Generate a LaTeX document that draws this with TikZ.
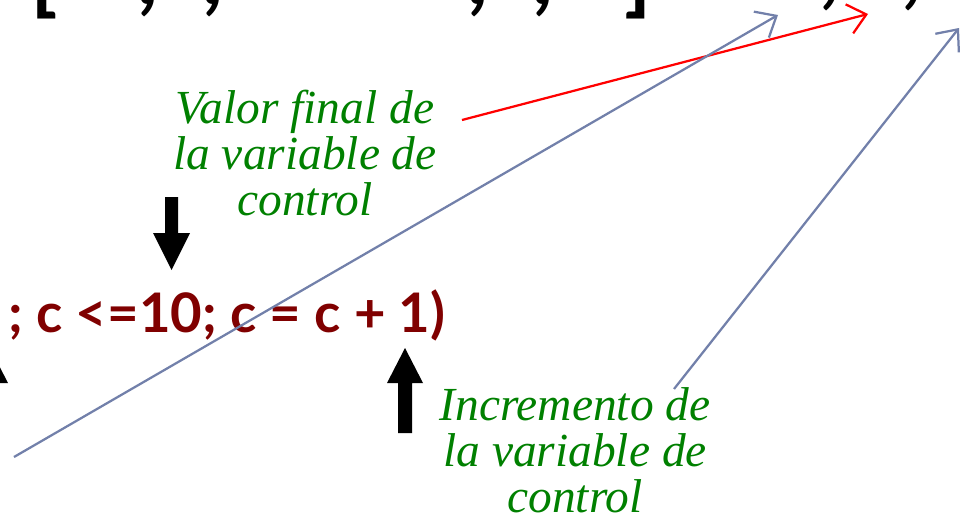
\documentclass[tikz,border=0pt]{standalone}
\usepackage{fontspec}
\setmainfont{Liberation Serif}
\newfontfamily\codefont{Lato}
\usetikzlibrary{arrows.meta}

\definecolor{notegreen}{RGB}{0,128,0}
\definecolor{codered}{RGB}{128,0,0}
\definecolor{linkgray}{RGB}{114,128,170}

\begin{document}
\begin{tikzpicture}[
x=0.2mm,y=-0.2mm,
note/.style={align=center,text=notegreen,inner sep=0pt,font=\fontsize{27}{26}\selectfont\itshape},
code/.style={text=codered,inner sep=0pt,font=\codefont\bfseries\fontsize{31}{31}\selectfont},
toprow/.style={inner sep=0pt,anchor=base,font=\codefont\bfseries\fontsize{50}{50}\selectfont},
pointer/.style={-{Straight Barb[length=3.5mm,width=6mm]},line width=0.45mm},
blockarrow/.style={fill=black}
]
\useasboundingbox (0,0) rectangle (967,516);
\clip (0,0) rectangle (967,516);

% row of values above, cut off by the top edge
\node[toprow] (lbr) at (44,6) {[};
\node[toprow] (c1) at (148,5) {,};
\node[toprow] (c2) at (213,5) {,};
\node[toprow] (c3) at (478,5) {,};
\node[toprow] (c4) at (543,5) {,};
\node[toprow] (rbr) at (638,6) {]};
\node[toprow] (c5) at (830,-1) {,};
\node[toprow] (c6) at (912,-1) {,};

% loop header
\node[code,anchor=base west] (head) at (8,332) {; c <=10; c = c + 1)};

% notes
\node[note,anchor=base] (final) at (305,215) {Valor final de\\la variable de\\control};
\node[note,anchor=base] (incr) at (575,512) {Incremento de\\la variable de\\control};

% block arrows
\fill[blockarrow] (165,197) -- (178,197) -- (178,233) -- (190,233) -- (171.5,270)
  -- (153,233) -- (165,233) -- cycle;
\fill[blockarrow] (398,433) -- (412,433) -- (412,383) -- (423,383) -- (405,348)
  -- (387,383) -- (398,383) -- cycle;
\fill[blockarrow] (-17,433) -- (-3,433) -- (-3,383) -- (8,383) -- (-10,348)
  -- (-28,383) -- (-17,383) -- cycle;

% pointers to the values
\coordinate (redfrom) at (462,120);
\coordinate (redto) at (868,14);
\coordinate (initfrom) at (14,457);
\coordinate (initto) at (778,15);
\coordinate (incrfrom) at (674,389);
\coordinate (incrto) at (959,28);

\draw[pointer,red] (redfrom) -- (redto);
\draw[pointer,linkgray] (initfrom) -- (initto);
\draw[pointer,linkgray] (incrfrom) -- (incrto);
\end{tikzpicture}
\end{document}
